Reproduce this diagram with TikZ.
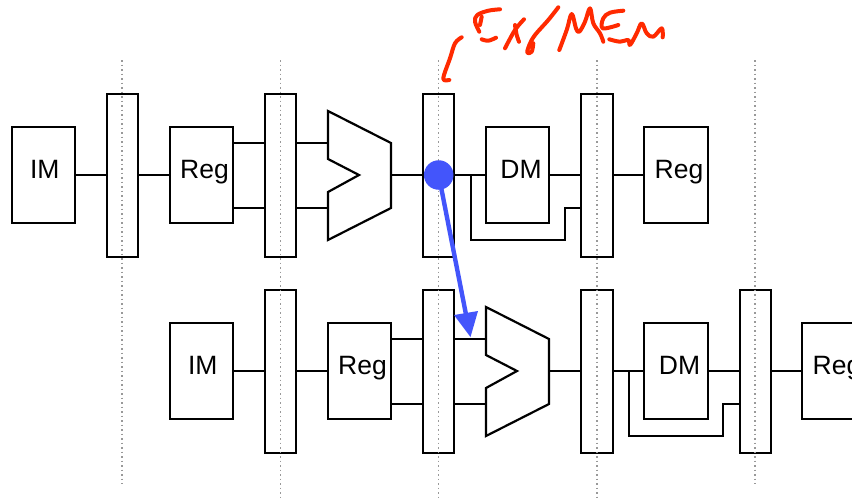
\documentclass[tikz,border=0pt]{standalone}
\usepackage{fontspec}
\setmainfont{Liberation Sans}
\definecolor{inkblue}{HTML}{4355FB}
\definecolor{inkred}{HTML}{FF2A00}
\newcommand\lbl[2][0pt]{\kern#1\raisebox{11pt}{#2}}
\tikzset{
  stage/.style={draw=black,fill=white,line width=2.2pt,minimum width=63pt,minimum height=96pt,inner sep=0pt,font=\fontsize{26.5}{26.5}\selectfont},
  latch/.style={draw=black,line width=2.2pt,minimum width=31pt,minimum height=163pt,inner sep=0pt},
  wire/.style={draw=black,line width=2.2pt,line join=miter},
  guide/.style={draw=black!40,line width=1.7pt,dash pattern=on 1.5pt off 3pt},
  ink/.style={draw=inkred,line width=4pt,line cap=round,line join=round,smooth,tension=.6},
}
\begin{document}
\begin{tikzpicture}[x=1pt,y=-1pt]
\useasboundingbox (0,0) rectangle (852,499);
\clip (0,0) rectangle (852,499);
\fill[white] (0,0) rectangle (852,499);
% guides
\coordinate (g1a) at (122,60);   \coordinate (g1b) at (122,484);
\coordinate (g2a) at (280.5,60); \coordinate (g2b) at (280.5,497);
\coordinate (g3a) at (438.5,60); \coordinate (g3b) at (438.5,497);
\coordinate (g4a) at (597,60);   \coordinate (g4b) at (597,497);
\coordinate (g5a) at (755,60);   \coordinate (g5b) at (755,484);
% top row
\node[stage] (imA) at (43.5,175) {\lbl[2.5pt]{IM}};
\node[latch] (pA1) at (122.5,175.5) {};
\node[stage] (regA) at (201.5,175) {\lbl[6pt]{Reg}};
\node[latch] (pA2) at (280.5,175.5) {};
\node[latch] (pA3) at (438.5,175.5) {};
\node[stage] (dmA) at (517.5,175) {\lbl[7pt]{DM}};
\node[latch,minimum width=32pt] (pA4) at (597,175.5) {};
\node[stage,minimum width=64pt] (regB) at (676,175) {\lbl[6pt]{Reg}};
% bottom row
\node[stage] (imB) at (201.5,371) {\lbl[2.5pt]{IM}};
\node[latch] (pB2) at (280.5,371.5) {};
\node[stage] (regC) at (359.5,371) {\lbl[6pt]{Reg}};
\node[latch] (pB3) at (438.5,371.5) {};
\node[latch,minimum width=32pt] (pB4) at (597,371.5) {};
\node[stage,minimum width=64pt] (dmB) at (676,371) {\lbl[7pt]{DM}};
\node[latch] (pB5) at (755.5,371.5) {};
\node[stage,minimum width=64pt] (regD) at (834,371) {\lbl[6pt]{Reg}};
% ALUs
\draw[wire] (328,111) -- (391,143) -- (391,208) -- (328,240) -- (328,192) -- (359,175) -- (328,159) -- cycle;
\draw[wire] (486,307) -- (549,339) -- (549,404) -- (486,436) -- (486,388) -- (517,371) -- (486,355) -- cycle;
\coordinate (aluAi1) at (328,143); \coordinate (aluAi2) at (328,208); \coordinate (aluAo) at (391,175);
\coordinate (aluBi1) at (486,339); \coordinate (aluBi2) at (486,404); \coordinate (aluBo) at (549,371);
% guides over latches
\foreach \g in {1,...,5} \draw[guide] (g\g a) -- (g\g b);
% wires top
\draw[wire] (imA.east) -- (pA1.west |- imA.east);
\draw[wire] (pA1.east |- regA.west) -- (regA.west);
\draw[wire] (regA.east |- aluAi1) -- (pA2.west |- aluAi1);
\draw[wire] (regA.east |- aluAi2) -- (pA2.west |- aluAi2);
\draw[wire] (pA2.east |- aluAi1) -- (aluAi1);
\draw[wire] (pA2.east |- aluAi2) -- (aluAi2);
\draw[wire] (aluAo) -- (pA3.west |- aluAo);
\draw[wire] (pA3.east |- dmA.west) -- (dmA.west);
\draw[wire] (dmA.east) -- (pA4.west |- dmA.east);
\draw[wire] (pA4.east |- regB.west) -- (regB.west);
\coordinate (tapA) at (471,175);
\draw[wire] (tapA) -- (471,240) -- (565,240) -- (565,208) -- (pA4.west |- 0,208);
% wires bottom
\draw[wire] (imB.east) -- (pB2.west |- imB.east);
\draw[wire] (pB2.east |- regC.west) -- (regC.west);
\draw[wire] (regC.east |- aluBi1) -- (pB3.west |- aluBi1);
\draw[wire] (regC.east |- aluBi2) -- (pB3.west |- aluBi2);
\draw[wire] (pB3.east |- aluBi1) -- (aluBi1);
\draw[wire] (pB3.east |- aluBi2) -- (aluBi2);
\draw[wire] (aluBo) -- (pB4.west |- aluBo);
\draw[wire] (pB4.east |- dmB.west) -- (dmB.west);
\draw[wire] (dmB.east) -- (pB5.west |- dmB.east);
\draw[wire] (pB5.east |- regD.west) -- (regD.west);
\coordinate (tapB) at (629,371);
\draw[wire] (tapB) -- (629,436) -- (723,436) -- (723,404) -- (pB5.west |- 0,404);
% forwarding
\node[circle,fill=inkblue,minimum size=29.5pt,inner sep=0pt] (fwd) at (438.7,175) {};
\coordinate (fwdtip) at (470.5,337);
\draw[inkblue,line width=4.4pt] (fwd.center) -- (466.5,317);
\fill[inkblue] (fwdtip) -- (454,315) -- (478,311) -- cycle;
% handwriting
\draw[ink] plot coordinates {(461.7,37.3) (455,43.3) (450,58.3) (444,75) (444,80) (449.3,80)};
\draw[ink] plot coordinates {(500,9.3) (488.3,10.7) (477.3,15) (475,21.7) (479.3,31.7)};
\draw[ink] plot coordinates {(481.7,16.7) (480,25)};
\draw[ink] plot coordinates {(481.7,39.3) (488.3,40.7) (496,37.7)};
\draw[ink] plot coordinates {(524,19.3) (515,30) (505,48.3)};
\draw[ink] plot coordinates {(515,25) (516.7,35) (519,41.7)};
\draw[ink] plot coordinates {(558.3,7.3) (548.3,20) (535,35) (529.3,45) (527.3,52.7) (531.7,51.7) (533.3,43.3)};
\draw[ink] plot coordinates {(559.3,50) (566.7,30) (571.7,14) (576,28.3) (579.3,31.7) (585,21.7) (590,8.3) (593.3,23.3) (600,33.3) (603.3,41.7)};
\draw[ink] plot coordinates {(623.3,10.7) (610,12.7) (603.3,18.3) (602.7,28.3) (618.3,25)};
\draw[ink] plot coordinates {(609.3,39.3) (620,41.7) (628.3,40) (630,45) (636.7,33.3) (641.7,23.3) (646.7,33.3) (653.3,36.7) (661.7,28.3) (662.7,37.3)};
\end{tikzpicture}
\end{document}
